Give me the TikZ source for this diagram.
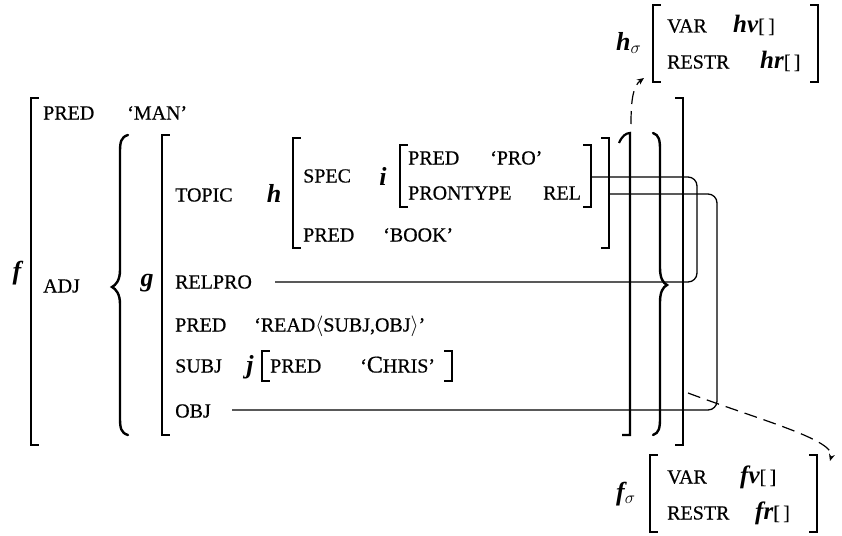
\documentclass[tikz,border=0pt]{standalone}
\usepackage{fontspec}
\setmainfont{Liberation Serif}
\newfontfamily\labfont{Liberation Serif}[FakeBold=0.5]
\newfontfamily\vfont{Liberation Serif Bold Italic}
\usetikzlibrary{arrows.meta}
\newcommand{\LBk}[3]{\draw[brk] ({#1+7},#2) -| (#1,#3) -- ({#1+7},#3);}
\newcommand{\RBk}[3]{\draw[brk] ({#1-7},#2) -| (#1,#3) -- ({#1-7},#3);}
\newcommand{\vb}[1]{{\vfont\fontsize{25}{26}\selectfont #1}}
\begin{document}
\begin{tikzpicture}[x=1pt,y=-1pt,
  lab/.style={anchor=base west,inner sep=0pt,font=\labfont\fontsize{20}{22}\selectfont},
  var/.style={anchor=center,inner sep=0pt,font=\vfont\fontsize{26}{27}\selectfont},
  sig/.style={anchor=base west,inner sep=0pt,font=\vfont\fontsize{26}{27}\selectfont},
  brk/.style={line width=2.2pt,line cap=rect,line join=miter},
  brace/.style={line width=2.4pt,line cap=round},
  conn/.style={line width=1.3pt,rounded corners=9pt},
  sigarrow/.style={line width=1.2pt,dash pattern=on 13pt off 7pt,-{Stealth[length=7pt,width=6pt]}}]
\useasboundingbox (0,0) rectangle (842,535);

% ---- outer f-structure ----
\node[var] (f) at (17,273) {f};
\LBk{31}{98}{445}
\RBk{683}{98}{445}
\node[lab] (predA) at (43,119.5) {PRED};
\node[lab] (man) at (127,119.5) {‘MAN’};
\node[lab] (adj) at (43,292.5) {ADJ};

% set braces
\draw[brace] (128,135) .. controls (121,137) and (120,142) .. (120,152) -- (120,270)
  .. controls (120,280) and (116,285) .. (112,287) .. controls (116,289) and (120,294) .. (120,304)
  -- (120,418) .. controls (120,428) and (121,433) .. (128,435);
\draw[brace] (653,133) .. controls (659,135) and (660,140) .. (660,150) -- (660,268)
  .. controls (660,278) and (663,283) .. (667,285) .. controls (663,287) and (660,292) .. (660,302)
  -- (660,418) .. controls (660,428) and (659,433) .. (653,435);

% ---- g ----
\node[var] (g) at (147,283) {g};
\LBk{162}{135}{435}
\draw[brk,line cap=butt] (619,143) .. controls (622,136) and (626,133) .. (630,133) -- (630,435) -- (622,435);
\node[lab] (topic) at (175,201.5) {TOPIC};
\node[var] (h) at (274,193) {h};
\LBk{293}{138}{248}
\RBk{609}{138}{248}
\node[lab] (spec) at (303,182.5) {SPEC};
\node[var] (i) at (383,176) {i};
\LBk{400}{145}{207}
\RBk{591}{145}{207}
\node[lab] (predB) at (408,164.5) {PRED};
\node[lab] (pro) at (490,164.5) {‘PRO’};
\node[lab] (prontype) at (408,199.5) {PRONTYPE};
\node[lab] (rel) at (543,199.5) {REL};
\node[lab] (predC) at (303,241.5) {PRED};
\node[lab] (book) at (383,241.5) {‘BOOK’};

\node[lab] (relpro) at (175,288.5) {RELPRO};
\node[lab] (predD) at (175,331.5) {PRED};
\node[lab] (read) at (254,331.5) {‘READ$\langle$SUBJ,OBJ$\rangle$’};
\node[lab] (subj) at (175,372.5) {SUBJ};
\node[var] (j) at (250,367) {j};
\LBk{262}{351}{381}
\RBk{452}{351}{381}
\node[lab] (predE) at (270,372.5) {PRED};
\node[lab] (chris) at (360,372.5) {‘{\fontsize{24}{24}\selectfont C}HRIS’};
\node[lab] (obj) at (175,417.5) {OBJ};

% ---- connectors ----
\coordinate (relproL) at (275,282);
\coordinate (relC) at (697,0);
\coordinate (iR) at (591,177);
\coordinate (objL) at (232,410);
\coordinate (objC) at (717,0);
\coordinate (hR) at (609,194);
\draw[conn] (relproL) -- (relproL -| relC) |- (iR);
\draw[conn] (objL) -- (objL -| objC) |- (hR);

% ---- h sigma ----
\node[sig] (hsig) at (616,50) {h$_\sigma$};
\LBk{653}{5}{82}
\RBk{818}{5}{82}
\node[lab] (varh) at (667,32.5) {VAR};
\node[lab] (hv) at (733,32.5) {\vb{hv}[\,]};
\node[lab] (restrh) at (667,68.5) {RESTR};
\node[lab] (hr) at (760,68.5) {\vb{hr}[\,]};

% ---- f sigma ----
\node[sig] (fsig) at (616,500) {f$_\sigma$};
\LBk{650}{455}{532}
\RBk{817}{455}{532}
\node[lab] (varf) at (667,483.5) {VAR};
\node[lab] (fv) at (740,483.5) {\vb{fv}[\,]};
\node[lab] (restrf) at (667,519.5) {RESTR};
\node[lab] (fr) at (755,519.5) {\vb{fr}[\,]};

% ---- sigma projections ----
\coordinate (hsrc) at (631,124);
\coordinate (htip) at (644,78);
\coordinate (fsrc) at (688,393);
\coordinate (ftip) at (830,461);
\draw[sigarrow] (hsrc) .. controls (631,100) and (633,86) .. (htip);
\draw[sigarrow] (fsrc) .. controls (760,420) and (836,440) .. (ftip);
\end{tikzpicture}
\end{document}
